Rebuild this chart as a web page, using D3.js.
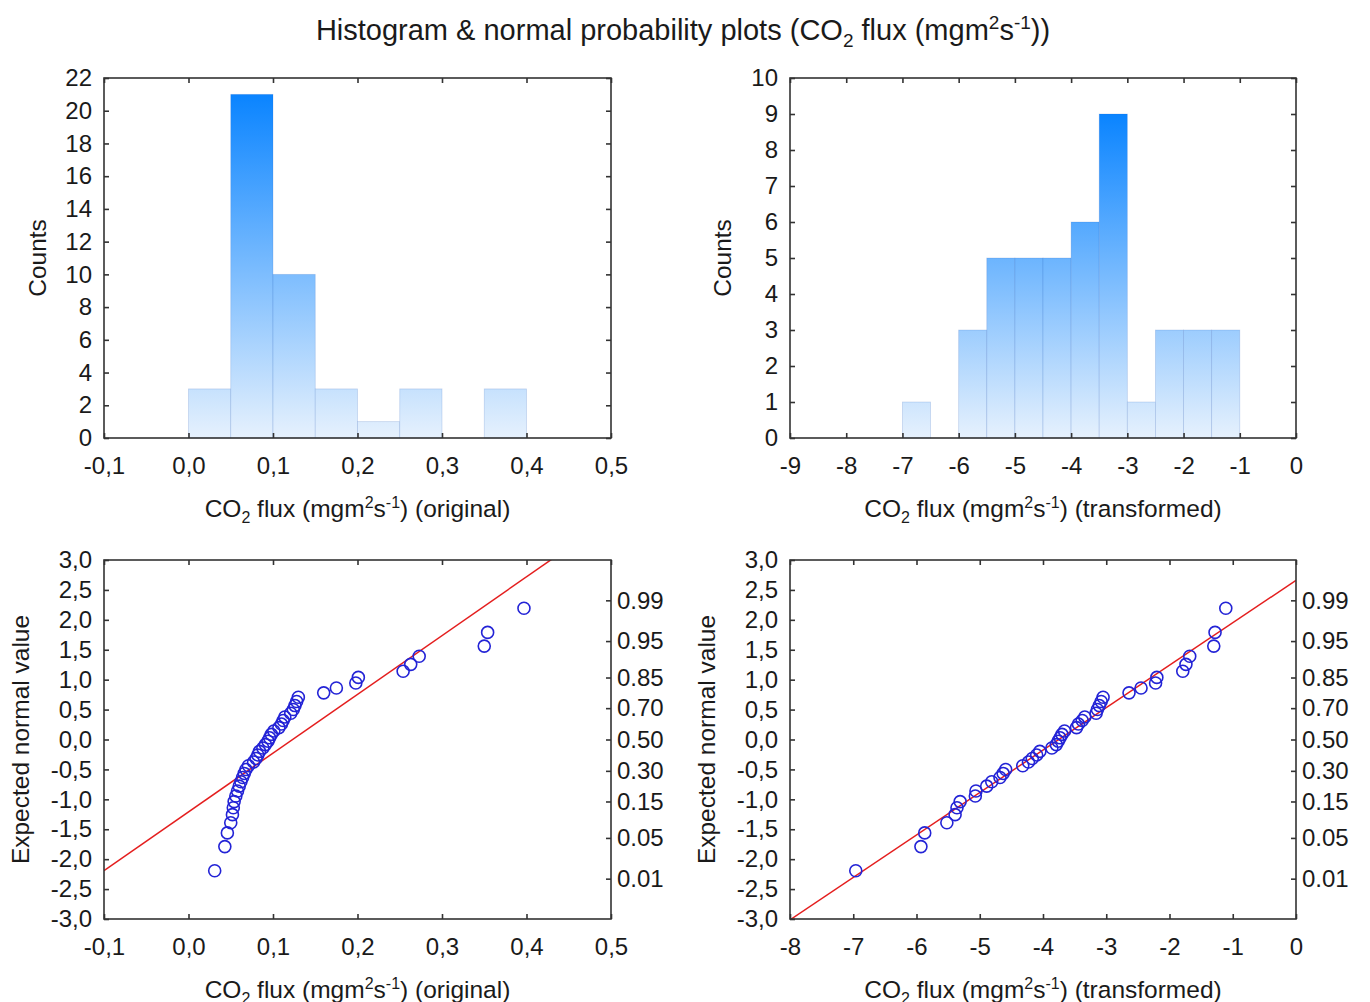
<!DOCTYPE html>
<html>
<head>
<meta charset="utf-8">
<script src="https://cdn.jsdelivr.net/npm/d3@7"></script>
<style>
  body { margin: 0; background: #fff; }
  svg { font-family: "Liberation Sans", Arial, sans-serif; }
</style>
</head>
<body>
<svg id="chart" width="1370" height="1002"></svg>
<script>
// histogram bins (edges) and counts
var origEdges = [0, 0.05, 0.10, 0.15, 0.20, 0.25, 0.30, 0.35, 0.40];
var origCounts = [3, 21, 10, 3, 1, 3, 0, 3];
var transEdges = [-7, -6.5, -6, -5.5, -5, -4.5, -4, -3.5, -3, -2.5, -2, -1.5, -1];
var transCounts = [1, 0, 3, 5, 5, 5, 6, 9, 1, 3, 3, 3];

// normal probability plots: sorted observations and expected normal values
var origValues = [0.031, 0.043, 0.046, 0.050, 0.052, 0.053, 0.054, 0.056, 0.058, 0.060,
  0.062, 0.064, 0.066, 0.068, 0.071, 0.077, 0.080, 0.082, 0.084, 0.088,
  0.091, 0.094, 0.096, 0.098, 0.101, 0.107, 0.110, 0.112, 0.114, 0.121,
  0.124, 0.126, 0.128, 0.130, 0.160, 0.175, 0.198, 0.201, 0.254, 0.263,
  0.273, 0.350, 0.354, 0.397];
var transValues = [-6.96, -5.93, -5.87, -5.52, -5.39, -5.36, -5.31, -5.07, -5.06, -4.89,
  -4.81, -4.68, -4.63, -4.59, -4.32, -4.23, -4.17, -4.10, -4.05, -3.86,
  -3.79, -3.76, -3.73, -3.70, -3.66, -3.47, -3.44, -3.38, -3.34, -3.16,
  -3.14, -3.11, -3.08, -3.05, -2.64, -2.45, -2.22, -2.20, -1.79, -1.74,
  -1.68, -1.30, -1.28, -1.11];
var expectedNormal = [-2.194, -1.790, -1.561, -1.392, -1.256, -1.140, -1.038, -0.945, -0.860, -0.780,
  -0.706, -0.635, -0.567, -0.502, -0.439, -0.377, -0.317, -0.258, -0.199, -0.142,
  -0.085, -0.028, 0.028, 0.085, 0.142, 0.199, 0.258, 0.317, 0.377, 0.439,
  0.502, 0.567, 0.635, 0.706, 0.780, 0.860, 0.945, 1.038, 1.140, 1.256,
  1.392, 1.561, 1.790, 2.194];

// tick values
var origXTicks = [-0.1, 0, 0.1, 0.2, 0.3, 0.4, 0.5];
var origCountTicks = d3.range(0, 23, 2);
var transHistXTicks = d3.range(-9, 1, 1);
var transCountTicks = d3.range(0, 11, 1);
var transQQXTicks = d3.range(-8, 1, 1);
var normalTicks = [-3, -2.5, -2, -1.5, -1, -0.5, 0, 0.5, 1, 1.5, 2, 2.5, 3];
var probLabels = ["0.01", "0.05", "0.15", "0.30", "0.50", "0.70", "0.85", "0.95", "0.99"];
var probZ = [-2.326, -1.645, -1.036, -0.524, 0, 0.524, 1.036, 1.645, 2.326];

var locale = d3.formatLocale({decimal: ",", thousands: ".", grouping: [3], currency: ["", ""], minus: "-"});
var fmt1 = locale.format(".1f");
var fmt0 = locale.format("d");

var svg = d3.select("#chart");
var defs = svg.append("defs");
var ink = "#1a1a1a";
var tickFont = 24;
var labelFont = 24.5;

// title
var title = svg.append("text")
  .attr("x", 683).attr("y", 40)
  .attr("text-anchor", "middle")
  .attr("font-size", 29)
  .attr("fill", ink);
coText(title, "Histogram & normal probability plots (", "))", 29);

function coText(sel, prefix, suffix, fs) {
  var small = Math.round(fs * 0.66);
  sel.append("tspan").text(prefix + "CO");
  sel.append("tspan").attr("dy", fs * 0.25).attr("font-size", small).text("2");
  sel.append("tspan").attr("dy", -fs * 0.25).text(" flux (mgm");
  sel.append("tspan").attr("dy", -fs * 0.38).attr("font-size", small).text("2");
  sel.append("tspan").attr("dy", fs * 0.38).text("s");
  sel.append("tspan").attr("dy", -fs * 0.38).attr("font-size", small).text("-1");
  sel.append("tspan").attr("dy", fs * 0.38).text(suffix);
}

function frame(box, id) {
  var g = svg.append("g");
  defs.append("clipPath").attr("id", id)
    .append("rect")
    .attr("x", box.x0).attr("y", box.y0)
    .attr("width", box.x1 - box.x0).attr("height", box.y1 - box.y0);
  return g;
}

function axes(g, box, x, y, xTicks, yTicks, xFmt, yFmt, xTitle, yTitle, yTitleX, rightSide) {
  g.append("g")
    .attr("transform", "translate(0," + box.y1 + ")")
    .call(d3.axisBottom(x).tickValues(xTicks).tickFormat(xFmt).tickSize(-5).tickPadding(19))
    .call(styleAxis);
  g.append("g")
    .attr("transform", "translate(0," + box.y0 + ")")
    .call(d3.axisTop(x).tickValues(xTicks).tickFormat("").tickSize(-5))
    .call(styleAxis);
  g.append("g")
    .attr("transform", "translate(" + box.x0 + ",0)")
    .call(d3.axisLeft(y).tickValues(yTicks).tickFormat(yFmt).tickSize(-5).tickPadding(12))
    .call(styleAxis);
  if (rightSide) {
    g.append("g")
      .attr("transform", "translate(" + box.x1 + ",0)")
      .call(d3.axisRight(y).tickValues(rightSide.ticks).tickFormat(function(d, i) { return rightSide.labels[i]; })
        .tickSize(-5).tickPadding(6))
      .call(styleAxis);
  } else {
    g.append("g")
      .attr("transform", "translate(" + box.x1 + ",0)")
      .call(d3.axisRight(y).tickValues(yTicks).tickFormat("").tickSize(-5))
      .call(styleAxis);
  }
  g.append("rect")
    .attr("x", box.x0).attr("y", box.y0)
    .attr("width", box.x1 - box.x0).attr("height", box.y1 - box.y0)
    .attr("fill", "none").attr("stroke", "#333").attr("stroke-width", 1.6);

  var xt = g.append("text")
    .attr("x", (box.x0 + box.x1) / 2).attr("y", box.y1 + 79)
    .attr("text-anchor", "middle").attr("font-size", labelFont).attr("fill", ink);
  coText(xt, "", xTitle, labelFont);

  g.append("text")
    .attr("transform", "translate(" + yTitleX + "," + (box.y0 + box.y1) / 2 + ") rotate(-90)")
    .attr("text-anchor", "middle").attr("font-size", labelFont).attr("fill", ink)
    .text(yTitle);
}

function styleAxis(a) {
  a.select(".domain").remove();
  a.selectAll(".tick line").attr("stroke", "#333").attr("stroke-width", 1.6);
  a.selectAll(".tick text").attr("font-size", tickFont).attr("fill", ink)
    .attr("font-family", "Liberation Sans, Arial, sans-serif");
}

function histogram(box, id, edges, counts, xDomain, yDomain, xTicks, yTicks, xFmt, xTitle, yTitleX) {
  var g = frame(box, id);
  var x = d3.scaleLinear().domain(xDomain).range([box.x0, box.x1]);
  var y = d3.scaleLinear().domain(yDomain).range([box.y1, box.y0]);
  var maxCount = d3.max(counts);

  var grad = defs.append("linearGradient").attr("id", id + "-grad")
    .attr("gradientUnits", "userSpaceOnUse")
    .attr("x1", 0).attr("x2", 0)
    .attr("y1", y(0)).attr("y2", y(maxCount));
  grad.append("stop").attr("offset", 0).attr("stop-color", "#e6f1fd");
  grad.append("stop").attr("offset", 1).attr("stop-color", "#0a84ff");

  var bins = counts.map(function(c, i) { return {x0: edges[i], x1: edges[i + 1], n: c}; })
    .filter(function(b) { return b.n > 0; });

  g.append("g").selectAll("rect").data(bins).enter().append("rect")
    .attr("x", function(d) { return x(d.x0); })
    .attr("y", function(d) { return y(d.n); })
    .attr("width", function(d) { return x(d.x1) - x(d.x0); })
    .attr("height", function(d) { return y(0) - y(d.n); })
    .attr("fill", "url(#" + id + "-grad)")
    .attr("stroke", "rgba(40,90,180,0.22)")
    .attr("stroke-width", 0.8);

  axes(g, box, x, y, xTicks, yTicks, xFmt, fmt0, xTitle, "Counts", yTitleX, null);
}

function probPlot(box, id, values, zs, xDomain, xTicks, xFmt, xTitle, yTitleX) {
  var g = frame(box, id);
  var x = d3.scaleLinear().domain(xDomain).range([box.x0, box.x1]);
  var y = d3.scaleLinear().domain([-3, 3]).range([box.y1, box.y0]);

  // least squares line of expected normal value on observed value
  var mx = d3.mean(values), mz = d3.mean(zs);
  var sxz = d3.sum(values, function(v, i) { return (v - mx) * (zs[i] - mz); });
  var sxx = d3.sum(values, function(v) { return (v - mx) * (v - mx); });
  var slope = sxz / sxx, icept = mz - slope * mx;

  g.append("line")
    .attr("clip-path", "url(#" + id + ")")
    .attr("x1", x(xDomain[0])).attr("y1", y(icept + slope * xDomain[0]))
    .attr("x2", x(xDomain[1])).attr("y2", y(icept + slope * xDomain[1]))
    .attr("stroke", "#e41e1e").attr("stroke-width", 1.5);

  g.append("g").selectAll("circle").data(values).enter().append("circle")
    .attr("cx", function(d) { return x(d); })
    .attr("cy", function(d, i) { return y(zs[i]); })
    .attr("r", 6)
    .attr("fill", "none")
    .attr("stroke", "#2323d6")
    .attr("stroke-width", 1.6);

  axes(g, box, x, y, xTicks, normalTicks, xFmt, fmt1, xTitle, "Expected normal value", yTitleX,
    {ticks: probZ, labels: probLabels});
}

histogram({x0: 104, x1: 611, y0: 78, y1: 438}, "h1", origEdges, origCounts,
  [-0.1, 0.5], [0, 22], origXTicks, origCountTicks, fmt1, ") (original)", 46);
histogram({x0: 790, x1: 1296, y0: 78, y1: 438}, "h2", transEdges, transCounts,
  [-9, 0], [0, 10], transHistXTicks, transCountTicks, fmt0, ") (transformed)", 731);
probPlot({x0: 104, x1: 611, y0: 560, y1: 919}, "q1", origValues, expectedNormal,
  [-0.1, 0.5], origXTicks, fmt1, ") (original)", 29);
probPlot({x0: 790, x1: 1296, y0: 560, y1: 919}, "q2", transValues, expectedNormal,
  [-8, 0], transQQXTicks, fmt0, ") (transformed)", 715);
</script>
</body>
</html>
